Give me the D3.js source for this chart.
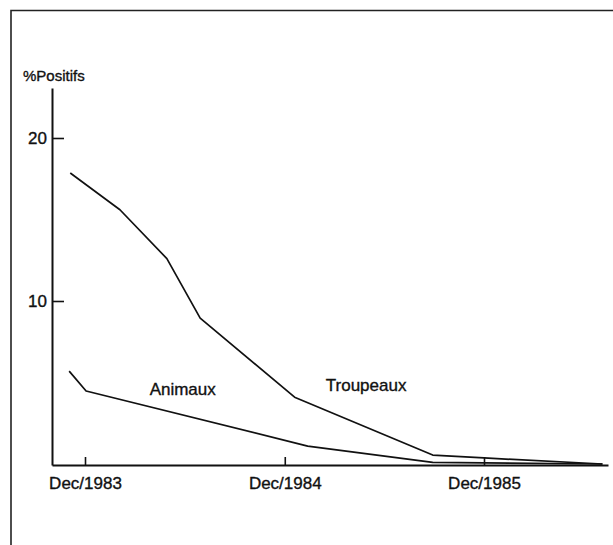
<!DOCTYPE html>
<html>
<head>
<meta charset="utf-8">
<script src="https://cdn.jsdelivr.net/npm/d3@7"></script>
<style>
  body { margin: 0; background: #fff; }
  svg { display: block; font-family: "Liberation Sans", Arial, sans-serif; }
  text { stroke: #111; stroke-width: 0.35px; }
</style>
</head>
<body>
<svg class="chart" width="613" height="545"></svg>
<script>
const parse = d3.timeParse('%Y-%m-%d');

// series (% positive)
const troupeauxDates = ['1983-11-04', '1984-02-03', '1984-04-29', '1984-06-29', '1984-12-19', '1985-08-29', '1985-12-01', '1986-07-06'];
const troupeauxValues = [17.85, 15.6, 12.6, 8.95, 4.1, 0.55, 0.37, 0];

const animauxDates = ['1983-11-02', '1983-12-03', '1985-01-12', '1985-08-29', '1986-07-06'];
const animauxValues = [5.7, 4.48, 1.1, 0.1, 0];

const xTickDates = ['1983-12-01', '1984-12-01', '1985-12-01'];
const xTickLabels = ['Dec/1983', 'Dec/1984', 'Dec/1985'];
const yTicks = [10, 20];

const seriesLabels = [
  {name: 'Animaux', date: '1984-05-28', value: 4.6},
  {name: 'Troupeaux', date: '1985-04-29', value: 4.85}
];

const svg = d3.select('.chart');

// frame (scanned page border)
svg.append('path')
  .attr('d', 'M11,545V10.5H613')
  .attr('fill', 'none')
  .attr('stroke', '#222')
  .attr('stroke-width', 1.6);

const x = d3.scaleTime()
  .domain([parse('1983-12-01'), parse('1985-12-01')])
  .range([85, 484]);

const y = d3.scaleLinear()
  .domain([0, 20])
  .range([464, 138]);

// axes span a bit past the data
const xAxisScale = x.copy().domain([x.invert(52), x.invert(608)]).range([52, 608]);
const yAxisScale = y.copy().domain([y.invert(465), y.invert(88)]).range([465, 88]);

const xAxis = d3.axisBottom(xAxisScale)
  .tickValues(xTickDates.map(parse))
  .tickFormat((d, i) => xTickLabels[i])
  .tickSizeInner(-8)
  .tickSizeOuter(0)
  .tickPadding(14);

const yAxis = d3.axisLeft(yAxisScale)
  .tickValues(yTicks)
  .tickSizeInner(-12)
  .tickSizeOuter(0)
  .tickPadding(5);

const gx = svg.append('g')
  .attr('transform', 'translate(0,465)')
  .call(xAxis);

const gy = svg.append('g')
  .attr('transform', 'translate(52,0)')
  .call(yAxis);

[gx, gy].forEach(g => {
  g.select('.domain').attr('stroke', '#111').attr('stroke-width', 2);
  g.selectAll('.tick line').attr('stroke', '#111').attr('stroke-width', 1.6);
  g.selectAll('.tick text')
    .attr('fill', '#111')
    .style('font-size', '17px')
    .style('font-family', '"Liberation Sans", Arial, sans-serif');
});

gx.selectAll('.tick text').attr('dy', '0.6em');

svg.append('text')
  .attr('x', 23)
  .attr('y', 81)
  .attr('fill', '#111')
  .style('font-size', '15px')
  .text('%Positifs');

const line = d3.line()
  .x(d => x(d.date))
  .y(d => y(d.value));

const troupeaux = troupeauxDates.map((d, i) => ({date: parse(d), value: troupeauxValues[i]}));
const animaux = animauxDates.map((d, i) => ({date: parse(d), value: animauxValues[i]}));

[troupeaux, animaux].forEach(series => {
  svg.append('path')
    .attr('d', line(series))
    .attr('fill', 'none')
    .attr('stroke', '#111')
    .attr('stroke-width', 1.7)
    .attr('stroke-linejoin', 'round');
});

svg.selectAll('.series-label')
  .data(seriesLabels)
  .enter().append('text')
  .attr('class', 'series-label')
  .attr('x', d => x(parse(d.date)))
  .attr('y', d => y(d.value))
  .attr('text-anchor', 'middle')
  .attr('dy', '0.35em')
  .attr('fill', '#111')
  .style('font-size', '17px')
  .text(d => d.name);
</script>
</body>
</html>
